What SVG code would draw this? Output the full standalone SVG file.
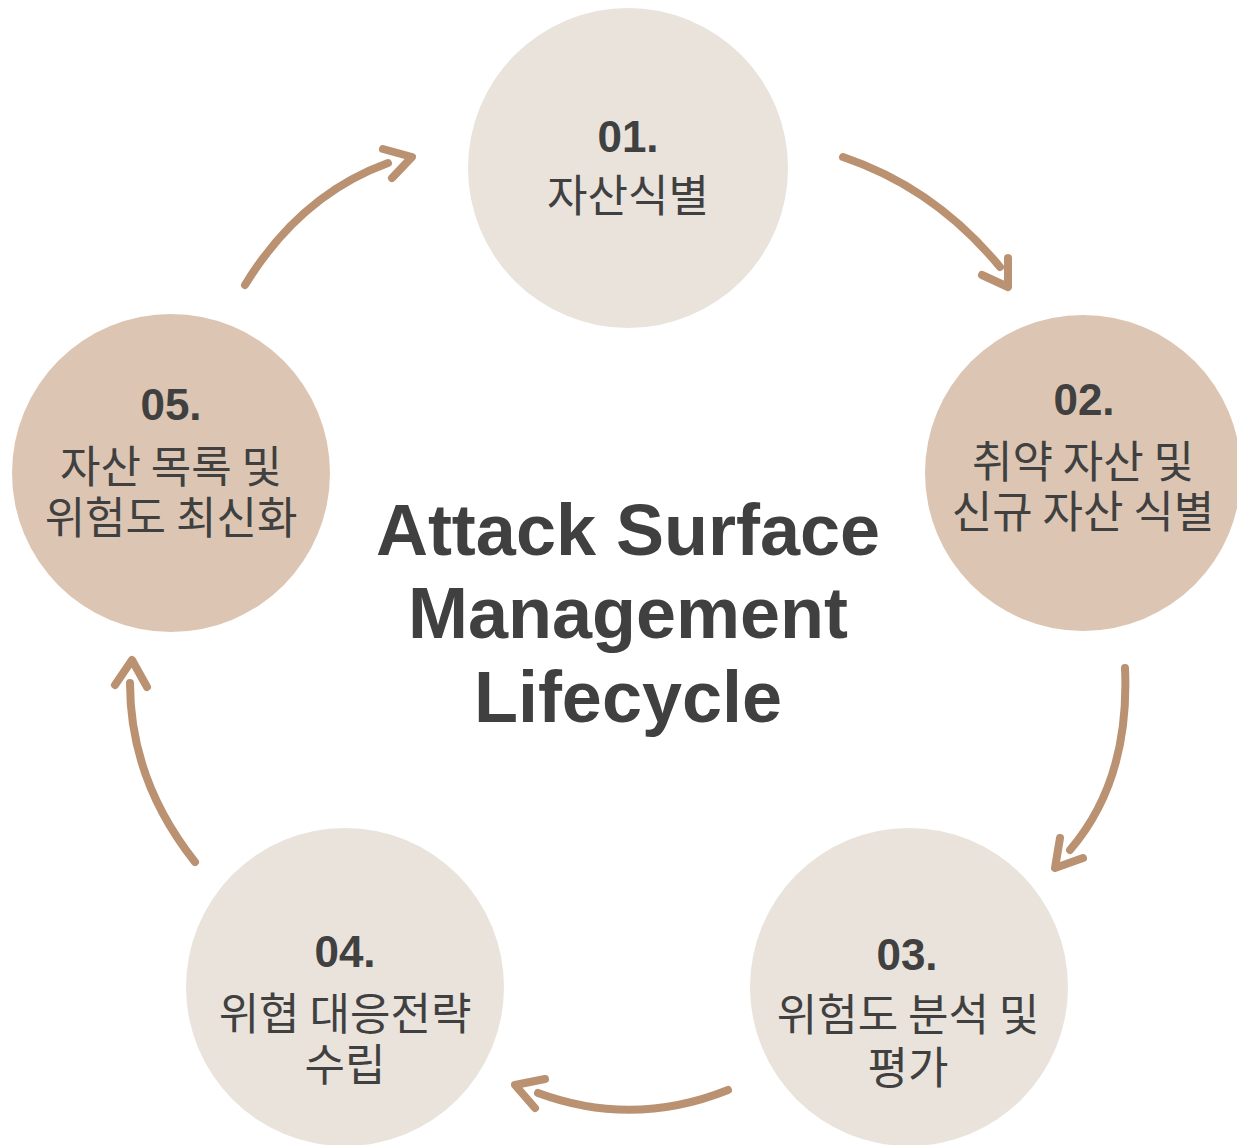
<svg xmlns="http://www.w3.org/2000/svg" width="1237" height="1145" viewBox="0 0 1237 1145">
  <style>
    .light { fill: #E9E3DC; }
    .dark { fill: #DCC6B3; }
    .num { font-family: "Liberation Sans", "Noto Sans", sans-serif; font-weight: bold; font-size: 44px; fill: #404040; text-anchor: middle; }
    .lbl { font-family: "Noto Sans CJK KR", "Noto Sans", sans-serif; font-size: 44px; fill: #404040; text-anchor: middle; }
    .title { font-family: "Liberation Sans", "Noto Sans", sans-serif; font-weight: bold; font-size: 72px; fill: #404040; text-anchor: middle; }
    .conn { fill: none; stroke: #BA9272; stroke-width: 8; stroke-linecap: round; stroke-linejoin: round; }
  </style>
  <rect width="1237" height="1145" fill="#FFFFFF"/>

  <g id="connectors">
    <path class="conn" d="M843,157 Q935,188 1000,267"/>
    <polyline class="conn" points="982,275 1008,287 1008,258"/>
    <path class="conn" d="M1125,668 Q1130,780 1070,850"/>
    <polyline class="conn" points="1060,838 1055,868 1083,858"/>
    <path class="conn" d="M728,1090 Q633,1128 538,1093"/>
    <polyline class="conn" points="545,1079 515,1085 535,1108"/>
    <path class="conn" d="M195,862 Q130,780 130,683"/>
    <polyline class="conn" points="115,685 132,660 147,687"/>
    <path class="conn" d="M245,285 Q300,195 388,163"/>
    <polyline class="conn" points="383,149 412,157 392,178"/>
  </g>

  <g id="node-01">
    <circle class="light" cx="628" cy="168" r="160"/>
    <text class="num" x="628" y="152">01.</text>
    <text class="lbl" x="628" y="212">자산식별</text>
  </g>

  <g id="node-02">
    <circle class="dark" cx="1083" cy="473" r="158"/>
    <text class="num" x="1084" y="415">02.</text>
    <text class="lbl" x="1083" y="478">취약 자산 및</text>
    <text class="lbl" x="1083" y="528">신규 자산 식별</text>
  </g>

  <g id="node-03">
    <circle class="light" cx="909" cy="987" r="159"/>
    <text class="num" x="907" y="970">03.</text>
    <text class="lbl" x="908" y="1031">위험도 분석 및</text>
    <text class="lbl" x="908" y="1084">평가</text>
  </g>

  <g id="node-04">
    <circle class="light" cx="345" cy="987" r="159"/>
    <text class="num" x="345" y="967">04.</text>
    <text class="lbl" x="345" y="1030">위협 대응전략</text>
    <text class="lbl" x="345" y="1081">수립</text>
  </g>

  <g id="node-05">
    <circle class="dark" cx="171" cy="473" r="159"/>
    <text class="num" x="171" y="420">05.</text>
    <text class="lbl" x="171" y="483">자산 목록 및</text>
    <text class="lbl" x="171" y="534">위험도 최신화</text>
  </g>

  <g id="title">
    <text class="title" x="628" y="555">Attack Surface</text>
    <text class="title" x="628" y="638">Management</text>
    <text class="title" x="628" y="722">Lifecycle</text>
  </g>
</svg>
